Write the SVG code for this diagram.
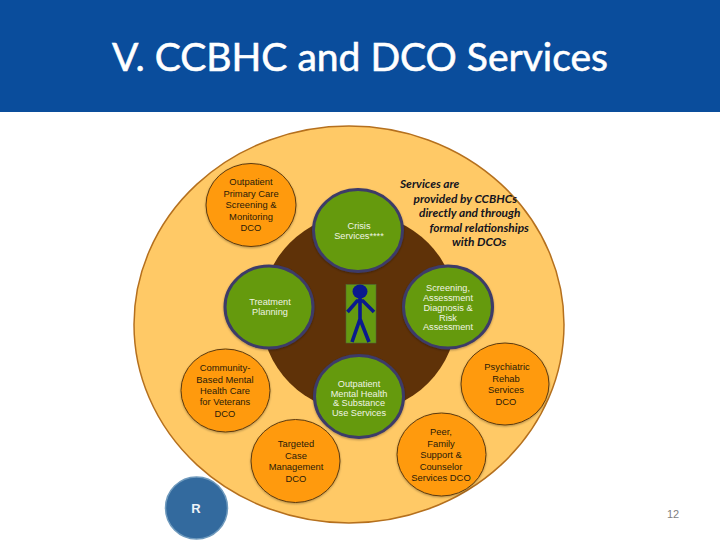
<svg xmlns="http://www.w3.org/2000/svg" width="720" height="540" viewBox="0 0 720 540">
<style>
text{font-family:"Liberation Sans",Arial,sans-serif;text-anchor:middle;font-size:9.4px}
.o ellipse{fill:#ff9a0e;stroke:#5c3a10;stroke-width:1;filter:url(#s)}
.o text{fill:#2a1a08}
.g ellipse{fill:#659a10;stroke:#3c3a68;stroke-width:3;filter:url(#s)}
.g text{fill:#f0f4e4;font-size:9.2px}
#note text{font-family:Lato,sans-serif;font-style:italic;font-weight:700;font-size:11.9px;fill:#14141e;text-anchor:start}
</style>
<defs><filter id="s" x="-10%" y="-10%" width="120%" height="125%"><feDropShadow dx="0" dy="1" stdDeviation="0.8" flood-color="#000" flood-opacity="0.3"/></filter></defs>
<rect width="720" height="540" fill="#fff"/>
<rect id="header" width="720" height="112" fill="#0a4d9c"/>
<text x="360" y="71" style="font-family:Lato,sans-serif;font-size:39px" fill="#fff" stroke="#fff" stroke-width=".6" textLength="496" lengthAdjust="spacingAndGlyphs">V. CCBHC and DCO Services</text>
<ellipse id="outer" cx="349" cy="324.500" rx="215" ry="198.500" fill="#ffc966" stroke="#b5701e" stroke-width="1.500"/>
<ellipse id="inner" cx="359" cy="313" rx="98" ry="99" fill="#5f3208"/>
<g id="primary" class="o"><ellipse cx="251" cy="205" rx="45" ry="41.500"/><text x="251" y="185">Outpatient</text><text x="251" y="197">Primary Care</text><text x="251" y="208">Screening &amp;</text><text x="251" y="220">Monitoring</text><text x="251" y="231">DCO</text></g>
<g id="community" class="o"><ellipse cx="225.500" cy="390.500" rx="44.500" ry="41.500"/><text x="225" y="371">Community-</text><text x="225" y="382.500">Based Mental</text><text x="225" y="394">Health Care</text><text x="225" y="405">for Veterans</text><text x="225" y="417">DCO</text></g>
<g id="targeted" class="o"><ellipse cx="295.500" cy="461" rx="44.500" ry="41.500"/><text x="296" y="447">Targeted</text><text x="296" y="458.500">Case</text><text x="296" y="470">Management</text><text x="296" y="481.500">DCO</text></g>
<g id="psychiatric" class="o"><ellipse cx="505" cy="384" rx="44" ry="41"/><text x="507" y="370">Psychiatric</text><text x="506" y="382">Rehab</text><text x="506" y="393">Services</text><text x="506" y="405">DCO</text></g>
<g id="peer" class="o"><ellipse cx="441.500" cy="454.500" rx="44.500" ry="41.500"/><text x="441" y="435">Peer,</text><text x="441" y="446.500">Family</text><text x="441" y="458">Support &amp;</text><text x="441" y="469.500">Counselor</text><text x="441" y="481">Services DCO</text></g>
<g id="crisis" class="g"><ellipse cx="358" cy="230.500" rx="44.500" ry="41"/><text x="359" y="229">Crisis</text><text x="359" y="239">Services****</text></g>
<g id="screening" class="g"><ellipse cx="448" cy="307" rx="44.500" ry="41"/><text x="448" y="291">Screening,</text><text x="448" y="301">Assessment</text><text x="448" y="310.500">Diagnosis &amp;</text><text x="448" y="320.500">Risk</text><text x="448" y="330">Assessment</text></g>
<g id="treatment" class="g"><ellipse cx="269" cy="307" rx="44" ry="41"/><text x="270" y="305">Treatment</text><text x="270" y="315">Planning</text></g>
<g id="mentalhealth" class="g"><ellipse cx="359" cy="396.500" rx="44.500" ry="41"/><text x="359" y="386.500">Outpatient</text><text x="359" y="396.500">Mental Health</text><text x="359" y="406">&amp; Substance</text><text x="359" y="416">Use Services</text></g>
<g id="person"><rect x="346" y="284.500" width="30" height="58.500" fill="#659a10" stroke="#4e6a3a" stroke-width=".6"/><ellipse cx="360" cy="291.500" rx="7.500" ry="7" fill="#0a1a8e"/><path d="M360 298V319M360 319L352 342M360 319L369 342M347.500 312L357 301H363L374 312" fill="none" stroke="#0a1a8e" stroke-width="3.600"/></g>
<g id="note"><text x="400" y="188">Services are</text><text x="413.500" y="203">provided by CCBHCs</text><text x="419" y="217">directly and through</text><text x="429.500" y="232">formal relationships</text><text x="452" y="246">with DCOs</text></g>
<g id="badge"><circle cx="196.500" cy="508" r="31" fill="#336a9e" stroke="#6f9abd" stroke-width="1.500"/><text x="196" y="513" style="font-weight:700;font-size:13px" fill="#eef3f8">R</text></g>
<text id="page" x="673" y="518" style="font-size:11px" fill="#7f7f7f">12</text>
<g id="connectors"/>
</svg>
